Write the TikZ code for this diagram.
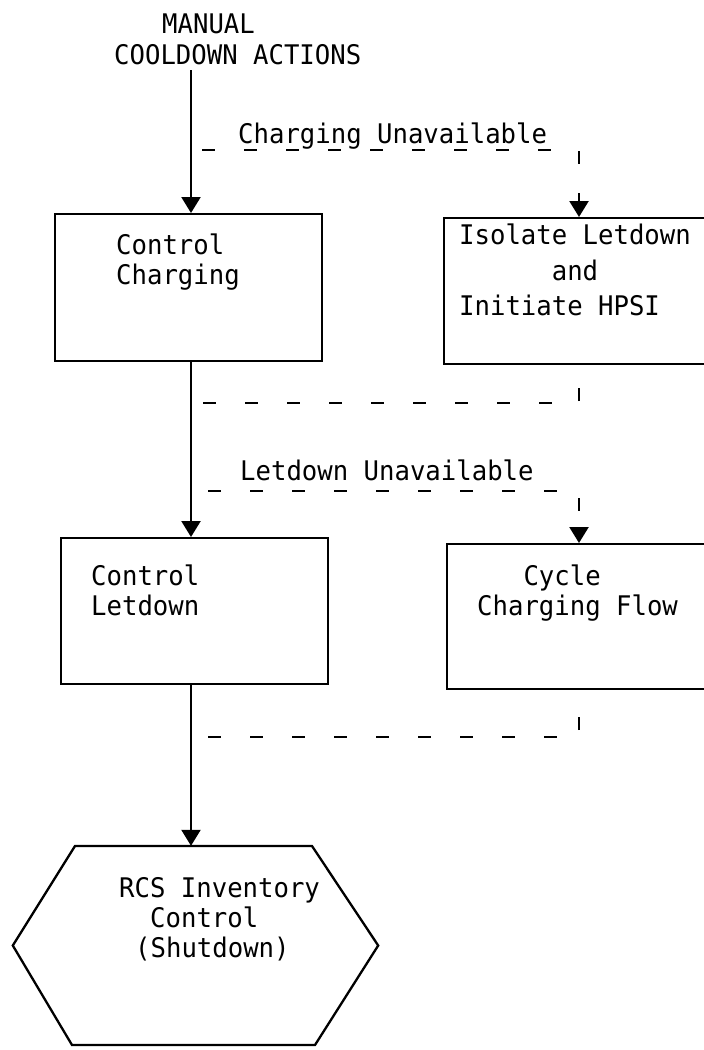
\documentclass[tikz,border=0pt]{standalone}
\usepackage{fontspec}
\usetikzlibrary{arrows.meta,calc}
\newfontfamily\dmono[FakeStretch=0.95]{DejaVu Sans Mono}
\tikzset{
  ln/.style={line width=2.3pt, black},
  box/.style={ln, draw, rectangle, inner sep=0pt, anchor=north west},
  txt/.style={inner sep=0pt, anchor=base west, font=\dmono\fontsize{27}{30}\selectfont},
  flow/.style={ln, -{Triangle[width=19pt,length=16pt]}},
  alt/.style={ln, dash pattern=on 13pt off 29pt},
  altarrow/.style={alt, -{Triangle[width=19pt,length=16pt]}}
}
\begin{document}
\begin{tikzpicture}[x=1pt,y=-1pt]
\useasboundingbox (0,0) rectangle (704,1050);
\fill[white] (0,0) rectangle (704,1050);
\clip (0,0) rectangle (704,1050);

% column references
\coordinate (mx) at (191,0);
\coordinate (rx) at (579,0);

% title
\node[txt] (t1) at (162,33) {MANUAL};
\node[txt] (t2) at (114,64) {COOLDOWN ACTIONS};

% boxes
\node[box, minimum width=267pt, minimum height=147pt] (cc) at (54,213) {};
\node[txt] (cc1) at (116,254) {Control};
\node[txt] (cc2) at (116,284) {Charging};

\node[box, minimum width=300pt, minimum height=146pt] (il) at (443,217) {};
\node[txt] (il1) at (459,244) {Isolate Letdown};
\node[txt] (il2) at (459,280) {\hphantom{Isolat}and};
\node[txt] (il3) at (459,315) {Initiate HPSI};

\node[box, minimum width=267pt, minimum height=146pt] (cl) at (60,537) {};
\node[txt] (cl1) at (91,585) {Control};
\node[txt] (cl2) at (91,615) {Letdown};

\node[box, minimum width=300pt, minimum height=145pt] (cf) at (446,543) {};
\node[txt] (cf1) at (477,585) {\hphantom{Cha}Cycle};
\node[txt] (cf2) at (477,615) {Charging Flow};

% end state hexagon
\node[inner sep=0pt, minimum width=365pt, minimum height=199pt] (rcs) at (195.5,945.5) {};
\draw[ln] (75,846) -- (312,846) -- (rcs.east) -- (315,1045) -- (72,1045) -- (rcs.west) -- cycle;
\node[txt] (rcs1) at (119,897) {RCS Inventory};
\node[txt] (rcs2) at (150,927) {Control};
\node[txt] (rcs3) at (135,957) {(Shutdown)};

% labels of alternative paths
\node[txt] (lb1) at (238,143) {Charging Unavailable};
\node[txt] (lb2) at (240,480) {Letdown Unavailable};

% main success path
\draw[flow] (mx |- 0,70) -- (cc.north -| mx);
\draw[flow] (cc.south -| mx) -- (cl.north -| mx);
\draw[flow] (cl.south -| mx) -- (rcs.north -| mx);

% alternative paths
\coordinate (a1) at (202,150);
\draw[altarrow] (a1) -- (a1 -| rx) -- (il.north -| rx);
\coordinate (r1) at (203,403);
\draw[alt] (r1) -- (r1 -| rx) -- (il.south -| rx);
\coordinate (a2) at (208,491);
\draw[altarrow] (a2) -- (a2 -| rx) -- (cf.north -| rx);
\coordinate (r2) at (208,737);
\draw[alt] (r2) -- (r2 -| rx) -- (cf.south -| rx);
\end{tikzpicture}
\end{document}
